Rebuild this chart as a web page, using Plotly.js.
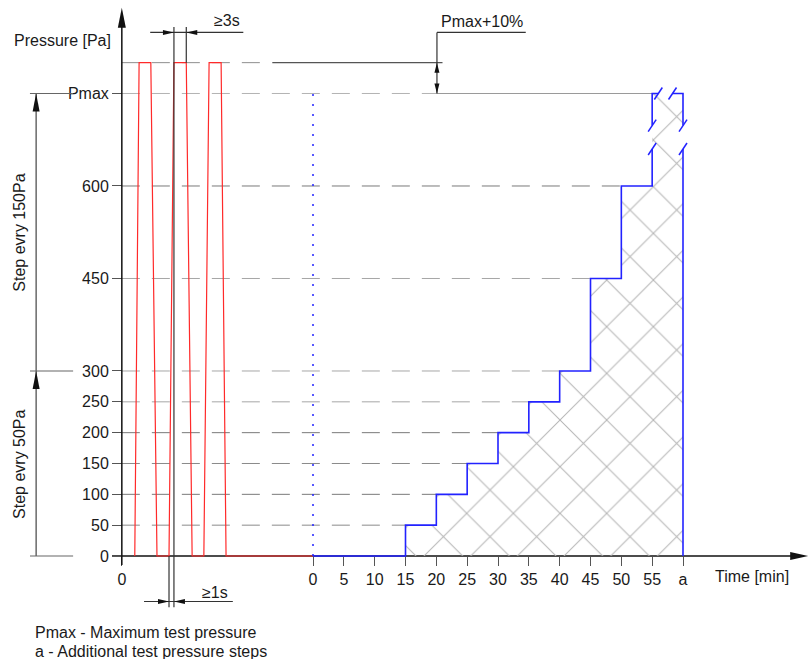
<!DOCTYPE html>
<html><head><meta charset="utf-8">
<script src="https://cdn.plot.ly/plotly-3.0.1.min.js"></script>
<style>html,body{margin:0;padding:0;background:#fff}#chart{width:811px;height:659px}</style>
</head><body><div id="chart"></div>
<script>
// ---------------- data ----------------
const stepStart = [15, 20, 25, 30, 35, 40, 45, 50, 55];      // min
const stepLevel = [50, 100, 150, 200, 250, 300, 450, 600, 750]; // Pa
const endTime = 60;          // "a"
const pmax = 750;            // Pmax
const pulseLevel = 800;      // Pmax+10% (as drawn)
const preOrigin = -31;       // origin of the pre-pulse section
const pulseRise     = [-28.9, -23.35, -17.7];
const pulseTopStart = [-28.2, -22.55, -16.85];
const pulseTopEnd   = [-26.3, -20.55, -14.9];
const pulseFall     = [-25.3, -19.6, -14.1];
const xTickVals = [-31, 0, 5, 10, 15, 20, 25, 30, 35, 40, 45, 50, 55, 60];
const xTickText = ['0', '0', '5', '10', '15', '20', '25', '30', '35', '40', '45', '50', '55', 'a'];
const yTickVals = [0, 50, 100, 150, 200, 250, 300, 450, 600, 750];
const yTickText = ['0', '50', '100', '150', '200', '250', '300', '450', '600', 'Pmax'];
const breakGap = [660, 698];     // Pa, gap in the verticals
const breakGapT = [56.0, 58.3];  // min, gap in the top line

// ---------------- style constants ----------------
const W = 811, H = 659;
const FONT = 'Liberation Sans, Arial, sans-serif';
const TXT = '#1a1a1a';
const BLUE = '#2222ff', RED = '#ff2a2a';
const xRange = [-50.757, 80.757];
const yRange = [-167.03, 901.6];
const leaderT = 20.1;
const gridShade = ['#8a8a8a', '#7a7a7a', '#8a8a8a', '#7a7a7a', '#a6a6a6', '#a6a6a6', '#a6a6a6', '#7a7a7a'];

// ---------------- traces ----------------
const hx = [], hy = [];
let prev = 0;
stepStart.forEach((t, i) => { hx.push(t, t); hy.push(prev, stepLevel[i]); prev = stepLevel[i]; });
hx.push(endTime, endTime); hy.push(pmax, 0);

const bx = [0], by = [0];
prev = 0;
stepStart.forEach((t, i) => {
  const lv = stepLevel[i];
  bx.push(t); by.push(prev);
  if (prev < breakGap[0] && lv > breakGap[1]) { bx.push(t, null, t); by.push(breakGap[0], null, breakGap[1]); }
  bx.push(t); by.push(lv);
  prev = lv;
});
bx.push(breakGapT[0], null, breakGapT[1], endTime, endTime, null, endTime, endTime);
by.push(pmax, null, pmax, pmax, breakGap[1], null, breakGap[0], 0);

const rx = [], ry = [];
pulseRise.forEach((t, i) => {
  rx.push(t, pulseTopStart[i], pulseTopEnd[i], pulseFall[i]);
  ry.push(0, pulseLevel, pulseLevel, 0);
});
rx.push(0); ry.push(0);

const traces = [
  { x: hx, y: hy, mode: 'lines', fill: 'toself', line: { width: 0, color: 'rgba(0,0,0,0)' },
    fillcolor: 'rgba(255,255,255,0)',
    fillpattern: { shape: 'x', size: 33, solidity: 0.06, fgcolor: '#b4b4b4', bgcolor: 'rgba(255,255,255,0)' },
    hoverinfo: 'skip', showlegend: false },
  { x: rx, y: ry, mode: 'lines', line: { color: RED, width: 1.2 }, hoverinfo: 'skip', showlegend: false },
  { x: [0, 0], y: [0, pmax], mode: 'lines', line: { color: BLUE, width: 1.5, dash: '2px,8px' }, hoverinfo: 'skip', showlegend: false },
  { x: bx, y: by, mode: 'lines', line: { color: BLUE, width: 1.6 }, connectgaps: false, hoverinfo: 'skip', showlegend: false }
];

// ---------------- shapes ----------------
const shapes = [];
function seg(x0, y0, x1, y1, color, width, dash, layer) {
  shapes.push({ type: 'line', xref: 'x', yref: 'y', x0, y0, x1, y1, layer: layer || 'above',
    line: { color, width, dash: dash || 'solid' } });
}
function pix(xa, ya, path, fill, lineColor, lw) {
  shapes.push({ type: 'path', xref: 'x', yref: 'y', xsizemode: 'pixel', ysizemode: 'pixel',
    xanchor: xa, yanchor: ya, path, fillcolor: fill || 'rgba(0,0,0,0)', layer: 'above',
    line: { color: lineColor || 'rgba(0,0,0,0)', width: lw || 0 } });
}
const DASH = '18px,12px';
// gridlines
stepLevel.forEach((lv, i) => {
  if (lv === pmax) return;
  seg(preOrigin, lv, stepStart[i], lv, gridShade[i], 1, DASH, 'below');
});
seg(preOrigin, pmax, leaderT, pmax, '#b4b4b4', 1, DASH, 'below');
seg(leaderT, pmax, stepStart[stepStart.length - 1], pmax, '#9a9a9a', 1.2, 'solid', 'below');
seg(preOrigin, pulseLevel, -7.6, pulseLevel, '#8e8e8e', 1, DASH, 'below');
seg(-6.6, pulseLevel, leaderT + 0.9, pulseLevel, '#555', 1.2, 'solid', 'below');

// axes lines + arrows
seg(preOrigin, -14.6, preOrigin, 870, '#111', 1.5);
pix(preOrigin, 889, 'M0,0 L-4,-20 L4,-20 Z', '#111');
seg(-32.6, 0, 78, 0, '#111', 1.5, 'solid', 'below');
pix(80.3, 0, 'M0,0 L-18,4 L-18,-4 Z', '#111');

// "Pmax+10%" leader
seg(leaderT, 849, leaderT, pmax, '#333', 1.2);
seg(leaderT, 849, 34.5, 849, '#333', 1.2);
pix(leaderT, pulseLevel, 'M0,0 L-2.5,-10 L2.5,-10 Z', '#111');
pix(leaderT, pmax, 'M0,0 L-2.5,10 L2.5,10 Z', '#111');

// ≥3s / ≥1s dimensioning
seg(pulseTopStart[1], 858, pulseTopStart[1], -83, '#333', 1.2);
seg(pulseTopEnd[1], 858, pulseTopEnd[1], pulseLevel, '#333', 1.2);
seg(pulseRise[1], 0, pulseRise[1], -83, '#333', 1.2);
seg(-26.4, 849, -11.3, 849, '#333', 1.2);
pix(pulseTopStart[1], 849, 'M0,0 L-11,2.5 L-11,-2.5 Z', '#111');
pix(pulseTopEnd[1], 849, 'M0,0 L11,2.5 L11,-2.5 Z', '#111');
seg(-27.4, -73.8, -13.0, -73.8, '#333', 1.2);
pix(pulseRise[1], -73.8, 'M0,0 L-11,2.5 L-11,-2.5 Z', '#111');
pix(pulseTopStart[1], -73.8, 'M0,0 L11,2.5 L11,-2.5 Z', '#111');

// left step dimension
const dimT = -44.9;
seg(dimT, 0, dimT, pmax, '#444', 1.2);
[pmax, 300, 0].forEach(v => seg(-45.9, v, -38.9, v, '#666', 1.2));
pix(dimT, pmax, 'M0,0 L-3.5,-18 L3.5,-18 Z', '#111');
pix(dimT, 300, 'M0,0 L-3.5,-18 L3.5,-18 Z', '#111');

// break marks
const SL = 'M-4,-6 L4,6';
const lastStart = stepStart[stepStart.length - 1];
[lastStart, endTime].forEach(t => {
  pix(t, breakGap[0], SL, null, BLUE, 1.5);
  pix(t, breakGap[1], SL, null, BLUE, 1.5);
});
breakGapT.forEach(t => pix(t, pmax, SL, null, BLUE, 1.5));

// ---------------- annotations ----------------
function txt(x, y, text, opts) {
  return Object.assign({ x, y, xref: 'x', yref: 'y', text, showarrow: false,
    font: { family: FONT, size: 16, color: TXT }, xanchor: 'center', yanchor: 'middle' }, opts || {});
}
const annotations = [
  txt(-40.7, 836.7, 'Pressure [Pa]'),
  txt(71.2, -34, 'Time [min]'),
  txt(27.4, 866, 'Pmax+10%'),
  txt(-13.9, 868, '≥3s'),
  txt(-15.9, -58.4, '≥1s'),
  txt(-47.6, 525, 'Step evry 150Pa', { textangle: -90 }),
  txt(-47.6, 150, 'Step evry 50Pa', { textangle: -90 }),
  { xref: 'paper', yref: 'paper', x: 33 / W, y: 1 - 632 / H, xanchor: 'left', yanchor: 'middle',
    text: 'Pmax - Maximum test pressure', showarrow: false, font: { family: FONT, size: 16, color: TXT } },
  { xref: 'paper', yref: 'paper', x: 33 / W, y: 1 - 651 / H, xanchor: 'left', yanchor: 'middle',
    text: 'a - Additional test pressure steps', showarrow: false, font: { family: FONT, size: 16, color: TXT } }
];

const layout = {
  width: W, height: H,
  margin: { l: 0, r: 0, t: 0, b: 0, pad: 0 },
  paper_bgcolor: '#fff', plot_bgcolor: '#fff',
  showlegend: false,
  font: { family: FONT, size: 16, color: TXT },
  xaxis: { range: xRange, anchor: 'free', position: 1 - 556 / H, showline: false, showgrid: false, zeroline: false,
    ticks: 'outside', ticklen: 9, tickwidth: 1, tickcolor: '#555', tickmode: 'array',
    tickvals: xTickVals, ticktext: xTickText, tickfont: { family: FONT, size: 16, color: TXT }, fixedrange: true },
  yaxis: { range: yRange, anchor: 'free', position: 122 / W, showline: false, showgrid: false, zeroline: false,
    ticks: 'outside', ticklen: 10, tickwidth: 1, tickcolor: '#555', tickmode: 'array',
    tickvals: yTickVals, ticktext: yTickText, tickfont: { family: FONT, size: 16, color: TXT }, fixedrange: true },
  shapes, annotations
};

Plotly.newPlot('chart', traces, layout, { displayModeBar: false, staticPlot: true });
</script>
</body></html>
